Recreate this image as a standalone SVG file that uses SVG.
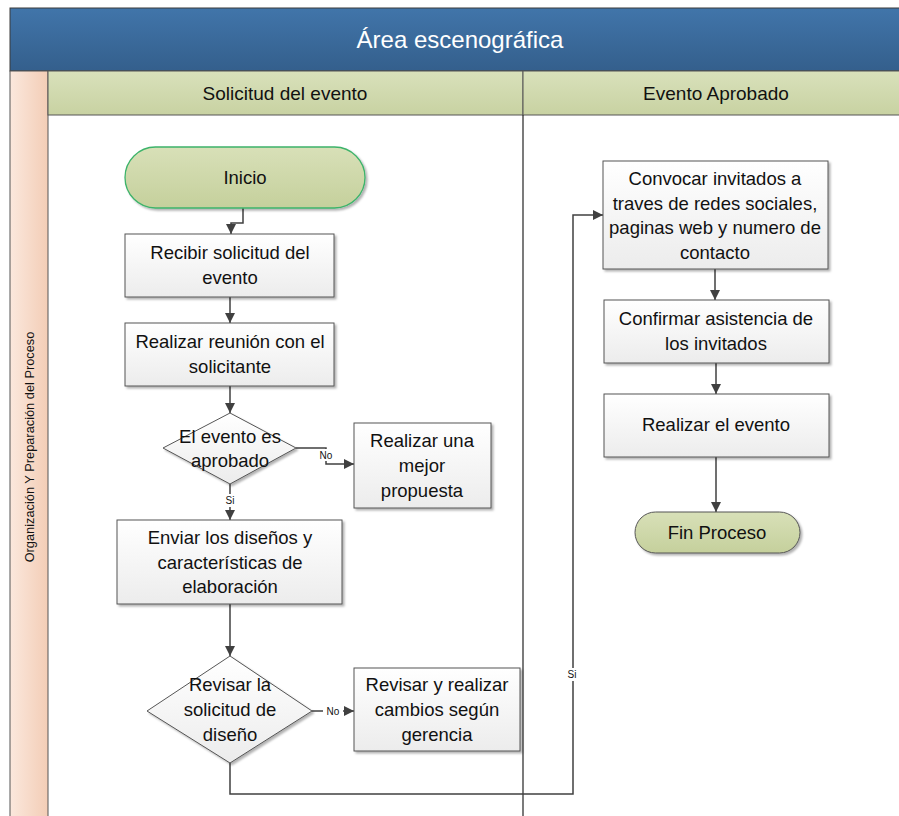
<svg xmlns="http://www.w3.org/2000/svg" width="899" height="816" viewBox="0 0 899 816">
  <defs>
    <linearGradient id="gHead" x1="0" y1="0" x2="0" y2="1">
      <stop offset="0" stop-color="#4175aa"/>
      <stop offset="1" stop-color="#345f8c"/>
    </linearGradient>
    <linearGradient id="gLane" x1="0" y1="0" x2="0" y2="1">
      <stop offset="0" stop-color="#d9e1bb"/>
      <stop offset="1" stop-color="#c8d2a2"/>
    </linearGradient>
    <linearGradient id="gPool" x1="0" y1="0" x2="1" y2="0">
      <stop offset="0" stop-color="#fbe8dd"/>
      <stop offset="1" stop-color="#f3cdb6"/>
    </linearGradient>
    <linearGradient id="gBox" x1="0" y1="0" x2="0" y2="1">
      <stop offset="0" stop-color="#ffffff"/>
      <stop offset="1" stop-color="#ececec"/>
    </linearGradient>
    <linearGradient id="gTerm" x1="0" y1="0" x2="0" y2="1">
      <stop offset="0" stop-color="#d8e0b8"/>
      <stop offset="1" stop-color="#c5d09c"/>
    </linearGradient>
    <marker id="arrow" viewBox="0 0 10 10" refX="10" refY="5" markerWidth="10" markerHeight="10" markerUnits="userSpaceOnUse" orient="auto">
      <path d="M0,0 L10,5 L0,10 z" fill="#404040"/>
    </marker>
    <filter id="shadow" x="-10%" y="-10%" width="130%" height="130%">
      <feDropShadow dx="2" dy="2" stdDeviation="1.2" flood-color="#000" flood-opacity="0.3"/>
    </filter>
  </defs>
  <style>
    text { font-family: "Liberation Sans", Arial, sans-serif; fill: #111; }
    .box { fill: url(#gBox); stroke: #555; stroke-width: 1; filter: url(#shadow); }
    .term { fill: url(#gTerm); filter: url(#shadow); }
    .lbl { font-size: 18.5px; text-anchor: middle; }
    .edge { fill: none; stroke: #404040; stroke-width: 1.5; }
    .elbl { font-size: 10px; text-anchor: middle; }
  </style>

  <!-- pool frame -->
  <g id="pool">
    <rect x="10" y="8" width="900" height="63" fill="url(#gHead)" stroke="#3a3a3a" stroke-width="1"/>
    <text x="460" y="48" font-size="24" text-anchor="middle" style="fill:#ffffff">Área escenográfica</text>
    <rect x="10" y="71" width="38" height="760" fill="url(#gPool)" stroke="#555" stroke-width="1"/>
    <text transform="translate(34,447) rotate(-90)" font-size="12.8" text-anchor="middle">Organización Y Preparación del Proceso</text>
    <rect x="48" y="71" width="475" height="44" fill="url(#gLane)" stroke="#555" stroke-width="1"/>
    <rect x="523" y="71" width="390" height="44" fill="url(#gLane)" stroke="#555" stroke-width="1"/>
    <text x="285" y="100" font-size="19" text-anchor="middle">Solicitud del evento</text>
    <text x="716" y="100" font-size="19" text-anchor="middle">Evento Aprobado</text>
    <line x1="523" y1="115" x2="523" y2="816" stroke="#333" stroke-width="1.3"/>
  </g>

  <!-- connectors -->
  <g id="connectors">
    <path class="edge" d="M243,208 V223 H231 V234" marker-end="url(#arrow)"/>
    <path class="edge" d="M230,297 V323" marker-end="url(#arrow)"/>
    <path class="edge" d="M230,386 V413" marker-end="url(#arrow)"/>
    <path class="edge" d="M296,448 H326 V464 H354" marker-end="url(#arrow)"/>
    <rect x="317" y="449" width="19" height="12" fill="#fff"/>
    <text class="elbl" x="326" y="459">No</text>
    <path class="edge" d="M230,484 V520" marker-end="url(#arrow)"/>
    <rect x="224" y="494" width="12" height="13" fill="#fff"/>
    <text class="elbl" x="230" y="504">Si</text>
    <path class="edge" d="M230,604 V656" marker-end="url(#arrow)"/>
    <path class="edge" d="M312,711 H354" marker-end="url(#arrow)"/>
    <rect x="323" y="705" width="20" height="12" fill="#fff"/>
    <text class="elbl" x="333" y="714.5">No</text>
    <path class="edge" d="M230,763 V794 H573 V215 H603" marker-end="url(#arrow)"/>
    <rect x="565" y="668" width="15" height="13" fill="#fff"/>
    <text class="elbl" x="572" y="678">Si</text>
    <path class="edge" d="M715,269 V300" marker-end="url(#arrow)"/>
    <path class="edge" d="M716,363 V394" marker-end="url(#arrow)"/>
    <path class="edge" d="M716,457 V512" marker-end="url(#arrow)"/>
  </g>

  <!-- nodes -->
  <g id="inicio">
    <rect class="term" x="125" y="147" width="240" height="61" rx="30.5" stroke="#3cb36a" stroke-width="1.3"/>
    <text class="lbl" x="245" y="184">Inicio</text>
  </g>
  <g id="recibir">
    <rect class="box" x="125" y="234" width="209" height="63"/>
    <text class="lbl" x="230" y="259">Recibir solicitud del</text>
    <text class="lbl" x="230" y="284">evento</text>
  </g>
  <g id="reunion">
    <rect class="box" x="125" y="323" width="209" height="63"/>
    <text class="lbl" x="230" y="348">Realizar reunión con el</text>
    <text class="lbl" x="230" y="373">solicitante</text>
  </g>
  <g id="aprobado">
    <polygon class="box" points="230,413 296,448 230,484 163,448"/>
    <text class="lbl" x="230" y="443">El evento es</text>
    <text class="lbl" x="230" y="467">aprobado</text>
  </g>
  <g id="propuesta">
    <rect class="box" x="354" y="423" width="137" height="85"/>
    <text class="lbl" x="422" y="447">Realizar una</text>
    <text class="lbl" x="422" y="472">mejor</text>
    <text class="lbl" x="422" y="497">propuesta</text>
  </g>
  <g id="enviar">
    <rect class="box" x="117" y="520" width="225" height="84"/>
    <text class="lbl" x="230" y="544">Enviar los diseños y</text>
    <text class="lbl" x="230" y="569">características de</text>
    <text class="lbl" x="230" y="593">elaboración</text>
  </g>
  <g id="revisar">
    <polygon class="box" points="230,656 312,711 230,763 147,711"/>
    <text class="lbl" x="230" y="691">Revisar la</text>
    <text class="lbl" x="230" y="716">solicitud de</text>
    <text class="lbl" x="230" y="741">diseño</text>
  </g>
  <g id="cambios">
    <rect class="box" x="354" y="668" width="166" height="83"/>
    <text class="lbl" x="437" y="691">Revisar y realizar</text>
    <text class="lbl" x="437" y="716">cambios según</text>
    <text class="lbl" x="437" y="741">gerencia</text>
  </g>
  <g id="convocar">
    <rect class="box" x="603" y="161" width="225" height="108"/>
    <text class="lbl" x="715" y="185">Convocar invitados  a</text>
    <text class="lbl" x="715" y="210">traves de redes sociales,</text>
    <text class="lbl" x="715" y="234">paginas web y numero de</text>
    <text class="lbl" x="715" y="259">contacto</text>
  </g>
  <g id="confirmar">
    <rect class="box" x="604" y="300" width="225" height="63"/>
    <text class="lbl" x="716" y="325">Confirmar asistencia de</text>
    <text class="lbl" x="716" y="350">los invitados</text>
  </g>
  <g id="evento">
    <rect class="box" x="604" y="394" width="225" height="63"/>
    <text class="lbl" x="716" y="431">Realizar el evento</text>
  </g>
  <g id="fin">
    <rect class="term" x="635" y="512" width="165" height="41" rx="20.5" stroke="#555" stroke-width="1"/>
    <text class="lbl" x="717" y="539">Fin Proceso</text>
  </g>
</svg>
